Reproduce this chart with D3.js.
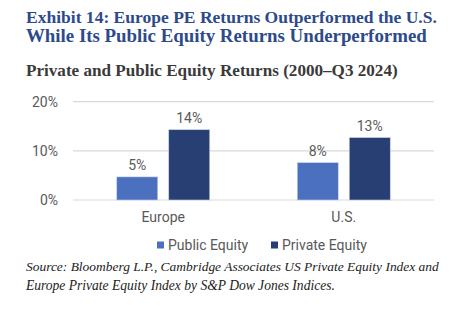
<!DOCTYPE html>
<html><head><meta charset="utf-8">
<script src="https://cdn.jsdelivr.net/npm/d3@7"></script>
<style>
html,body{margin:0;padding:0;background:#fff;}
svg{display:block;}
</style></head>
<body>
<svg id="chart" width="467" height="332"></svg>
<script>
const categories = ["Europe", "U.S."];
const seriesNames = ["Public Equity", "Private Equity"];
const publicEquity = [4.7, 7.6];
const privateEquity = [14.3, 12.7];
const valueLabels = [["5%", "14%"], ["8%", "13%"]];
const yTicks = [0, 10, 20];
const colors = ["#4a70bf", "#273f72"];

const svg = d3.select("#chart");
const serif = "'Liberation Serif', 'DejaVu Serif', serif";
const sans = "Roboto, 'Liberation Sans', sans-serif";

function fitText(sel, width) {
  const n = sel.node();
  const w = n.getComputedTextLength();
  const fs = parseFloat(sel.attr("font-size"));
  sel.attr("font-size", (fs * width / w).toFixed(2));
}

// Titles
const t1 = svg.append("text").attr("x", 26).attr("y", 23).attr("font-family", serif)
  .attr("font-weight", "bold").attr("font-size", 18).attr("fill", "#2d4a8a")
  .text("Exhibit 14: Europe PE Returns Outperformed the U.S.");
fitText(t1, 411);
const t2 = svg.append("text").attr("x", 26).attr("y", 42).attr("font-family", serif)
  .attr("font-weight", "bold").attr("font-size", 18).attr("fill", "#2d4a8a")
  .text("While Its Public Equity Returns Underperformed");
fitText(t2, 401);
const st = svg.append("text").attr("x", 26).attr("y", 76).attr("font-family", serif)
  .attr("font-weight", "bold").attr("font-size", 15).attr("fill", "#3a3a3a")
  .text("Private and Public Equity Returns (2000\u2013Q3 2024)");
fitText(st, 372);

// Scales
const x0 = d3.scaleBand().domain(categories).range([73, 434]).paddingInner(0).paddingOuter(0);
const y = d3.scaleLinear().domain([0, 20]).range([200, 101.7]);

// Gridlines
svg.append("g").selectAll("line").data(yTicks).join("line")
  .attr("x1", 73).attr("x2", 434)
  .attr("y1", d => y(d)).attr("y2", d => y(d))
  .attr("stroke", "#d9d9d9").attr("stroke-width", 1.2);

// Y axis labels
const yAxis = d3.axisLeft(y).tickValues(yTicks).tickFormat(d => d + "%").tickSize(0).tickPadding(0);
const ya = svg.append("g").attr("transform", "translate(58,0)").call(yAxis);
ya.select(".domain").remove();
ya.selectAll("text").attr("font-family", sans).attr("font-size", 14).attr("fill", "#595959");

// Bars
const barW = 41, gap = 11;
const x1 = d3.scaleBand().domain(seriesNames).range([0, barW * 2 + gap]).paddingInner(gap / (barW + gap)).paddingOuter(0);
const groupW = barW * 2 + gap;
const data = categories.map((c, i) => ({cat: c, vals: [publicEquity[i], privateEquity[i]], labels: valueLabels[i]}));

const groups = svg.append("g").selectAll("g").data(data).join("g")
  .attr("transform", d => `translate(${x0(d.cat) + x0.bandwidth() / 2 - groupW / 2},0)`);

groups.selectAll("rect").data(d => d.vals.map((v, j) => ({v, s: seriesNames[j], j}))).join("rect")
  .attr("x", d => x1(d.s)).attr("width", x1.bandwidth())
  .attr("y", d => y(d.v)).attr("height", d => y(0) - y(d.v))
  .attr("fill", d => colors[d.j]).attr("stroke", "#c9d3e8").attr("stroke-width", 0.6);

groups.selectAll("text.val").data(d => d.vals.map((v, j) => ({v, s: seriesNames[j], l: d.labels[j]}))).join("text")
  .attr("class", "val")
  .attr("x", d => x1(d.s) + x1.bandwidth() / 2).attr("y", d => y(d.v) - 7)
  .attr("text-anchor", "middle").attr("font-family", sans).attr("font-size", 14).attr("fill", "#595959")
  .text(d => d.l);

// X axis labels
const xAxis = d3.axisBottom(x0).tickSize(0).tickPadding(0);
const xa = svg.append("g").attr("transform", "translate(0,212)").call(xAxis);
xa.select(".domain").remove();
xa.selectAll("text").attr("font-family", sans).attr("font-size", 14).attr("fill", "#595959");

// Legend
const legendX = [157, 271];
const lg = svg.append("g").selectAll("g").data(seriesNames).join("g")
  .attr("transform", (d, i) => `translate(${legendX[i]},245)`);
lg.append("rect").attr("x", 0).attr("y", -3.5).attr("width", 7).attr("height", 7).attr("fill", (d, i) => colors[i]);
lg.append("text").attr("x", 11).attr("y", 5).attr("font-family", sans).attr("font-size", 14)
  .attr("fill", "#595959").text(d => d);

// Source
const s1 = svg.append("text").attr("x", 26).attr("y", 271).attr("font-family", serif)
  .attr("font-style", "italic").attr("font-size", 14).attr("fill", "#222")
  .text("Source: Bloomberg L.P., Cambridge Associates US Private Equity Index and");
fitText(s1, 413);
const s2 = svg.append("text").attr("x", 26).attr("y", 290).attr("font-family", serif)
  .attr("font-style", "italic").attr("font-size", 14).attr("fill", "#222")
  .text("Europe Private Equity Index by S&P Dow Jones Indices.");
fitText(s2, 309);
</script>
</body></html>
